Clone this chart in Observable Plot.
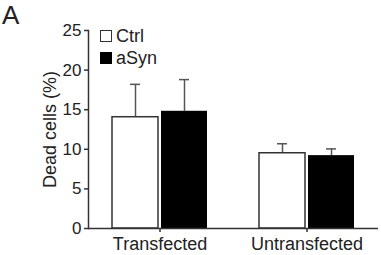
<!DOCTYPE html>
<html><head><meta charset="utf-8">
<script src="https://cdn.jsdelivr.net/npm/d3@7"></script>
<script src="https://cdn.jsdelivr.net/npm/@observablehq/plot@0.6"></script>
<style>
body{margin:0;background:#fff;font-family:"Liberation Sans",Arial,sans-serif;color:#222;}
#wrap{position:relative;width:381px;height:255px;}
#panel{position:absolute;left:2px;top:0px;font-size:26px;line-height:normal;}
#legend{position:absolute;left:100px;top:29px;font-size:18px;line-height:18px;}
.item{display:flex;align-items:center;height:13px;margin-bottom:9px;}
.sw{width:10px;height:10px;border:1.5px solid #333;margin-right:4px;box-sizing:content-box;}
</style></head>
<body>
<div id="wrap">
  <div id="chart"></div>
  <div id="panel">A</div>
  <div id="legend"></div>
</div>
<script>
const groups = ["Transfected", "Untransfected"];
const conditions = ["Ctrl", "aSyn"];
const ctrlMean = [14.05, 9.5];
const ctrlErr = [4.15, 1.2];
const asynMean = [14.8, 9.2];
const asynErr = [4.0, 0.85];
const yTicks = [0, 5, 10, 15, 20, 25];
const fills = {Ctrl: "white", aSyn: "black"};

const ctrl = groups.map((g, i) => ({group: g, cond: "Ctrl", mean: ctrlMean[i], top: ctrlMean[i] + ctrlErr[i]}));
const asyn = groups.map((g, i) => ({group: g, cond: "aSyn", mean: asynMean[i], top: asynMean[i] + asynErr[i]}));

const ink = "#333";
const chart = Plot.plot({
  width: 381, height: 255,
  marginLeft: 88, marginRight: 3, marginTop: 30, marginBottom: 27,
  style: {fontFamily: "Liberation Sans, Arial, sans-serif", fontSize: "17px", color: "#222", background: "white"},
  x: {domain: groups, paddingInner: 0.354, paddingOuter: 0.163, axis: null},
  y: {domain: [0, 25], axis: null},
  marks: [
    Plot.axisY({ticks: yTicks, tickSize: 4, tickPadding: 3, fontSize: 17, label: null, stroke: ink, strokeWidth: 1.5}),
    Plot.axisY({ticks: [], tickSize: 0, label: "Dead cells (%)", labelArrow: "none", labelAnchor: "center", labelOffset: 45, fontSize: 18, dy: -6}),
    Plot.axisX({tickSize: 4, tickPadding: 5, fontSize: 18, label: null, stroke: ink, strokeWidth: 1.5}),
    Plot.ruleX(ctrl, {x: "group", y1: "mean", y2: "top", dx: -24.5, stroke: "#555", strokeWidth: 1.5}),
    Plot.ruleX(asyn, {x: "group", y1: "mean", y2: "top", dx: 24.5, stroke: "#555", strokeWidth: 1.5}),
    Plot.tickY(ctrl, {x: "group", y: "top", insetLeft: 18, insetRight: 67, stroke: "#555", strokeWidth: 1.5}),
    Plot.tickY(asyn, {x: "group", y: "top", insetLeft: 67, insetRight: 18, stroke: "#555", strokeWidth: 1.5}),
    Plot.barY(ctrl, {x: "group", y: "mean", fill: fills.Ctrl, stroke: ink, strokeWidth: 1.5, insetRight: 49}),
    Plot.barY(asyn, {x: "group", y: "mean", fill: fills.aSyn, insetLeft: 49}),
    Plot.ruleY([0], {stroke: ink, strokeWidth: 1.5}),
    Plot.frame({anchor: "left", stroke: ink, strokeWidth: 1.5})
  ]
});
document.getElementById("chart").appendChild(chart);

const legend = d3.select("#legend");
conditions.forEach(c => {
  const it = legend.append("div").attr("class", "item");
  it.append("div").attr("class", "sw").style("background", fills[c]).style("border-color", c === "Ctrl" ? ink : "black");
  it.append("span").text(c);
});
</script>
</body></html>
